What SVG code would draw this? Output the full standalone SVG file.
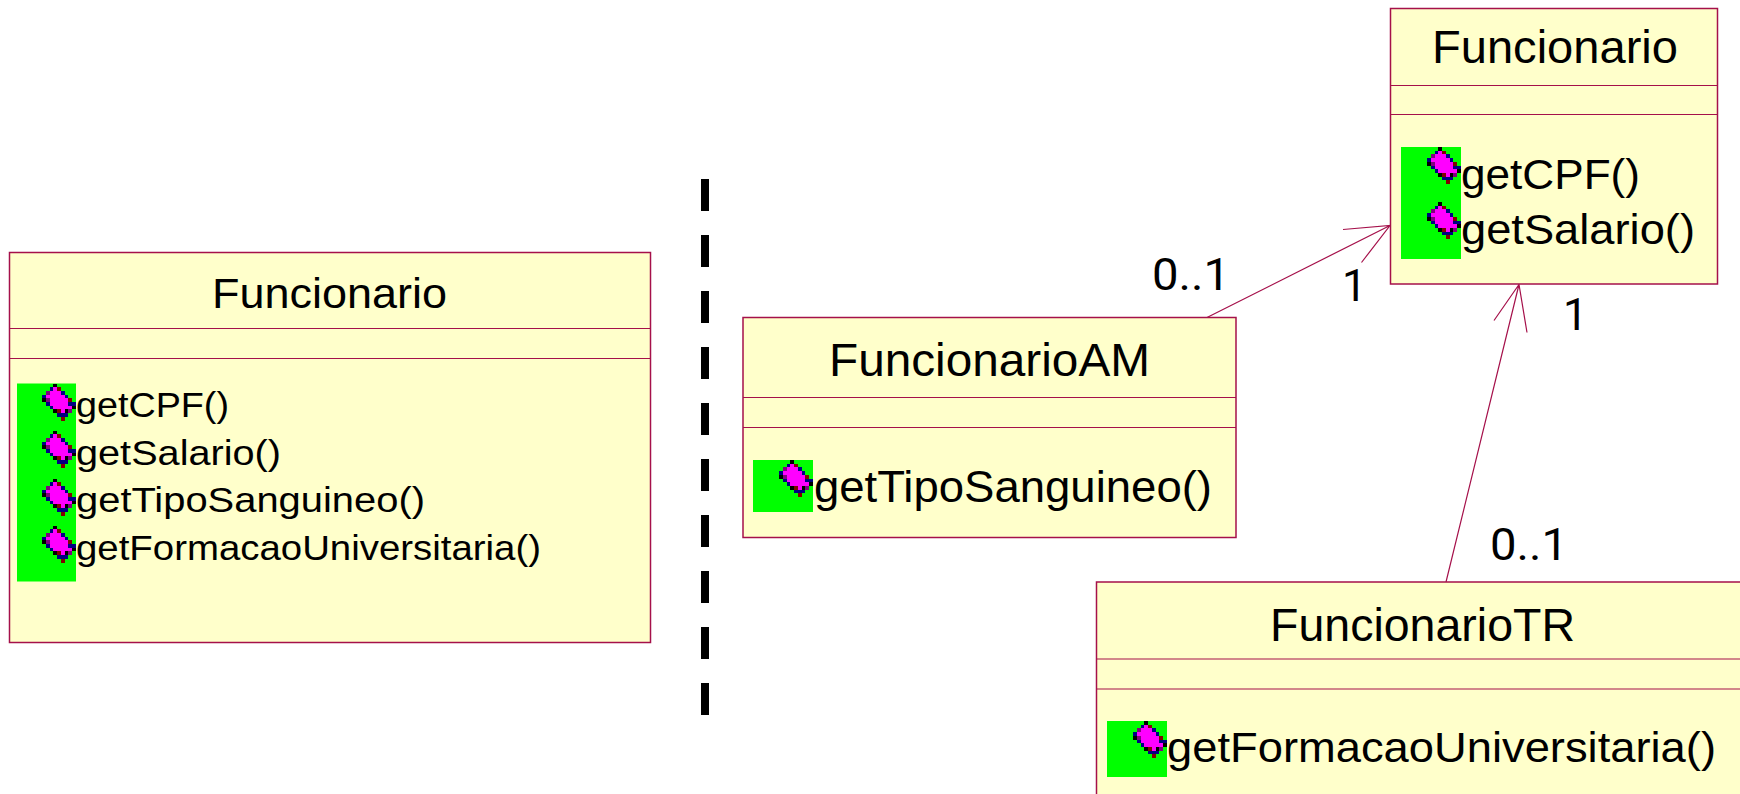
<svg xmlns="http://www.w3.org/2000/svg" width="1740" height="794" viewBox="0 0 1740 794">
<style>
.box{fill:#ffffcb;stroke:#a5104a;stroke-width:1.5}
.sep{stroke:#a5104a;stroke-width:1.2;fill:none}
.conn{stroke:#a5104a;stroke-width:1.2;fill:none}
.green{fill:#00ff00}
.dash{fill:#000}
text{font-family:"Liberation Sans",Arial,sans-serif;fill:#000}
#labels text{font-family:Roboto,"Liberation Sans",sans-serif}
.k{fill:#000}.b{fill:#000080}.r{fill:#800000}.p{fill:#800080}.g{fill:#ff00ff}
</style>
<defs>
<g id="ico" shape-rendering="crispEdges" transform="scale(3.78 3.7)">
<path class="g" d="M3 1h1v1h1v1h1v1h1v1h1v2h-1v1h-3v-1h-1v-1h-1v-1h-1v-3h1v-1h1z"/>
<path class="k" d="M3 0h1v1h-1zM0 4h1v1h-1zM3 7h1v1h-1zM6 7h1v1h-1zM8 6h1v1h-1z"/>
<path class="b" d="M2 1h1v1h-1zM5 2h1v1h-1zM6 3h1v1h-1zM0 3h1v1h-1zM1 5h1v1h-1zM2 6h1v1h-1zM7 5h1v1h-1zM8 5h1v1h-1zM4 8h3v1h-3z"/>
<path class="r" d="M4 1h1v1h-1zM7 4h1v1h-1zM5 9h1v1h-1zM4 7h1v1h-1z"/>
<path class="p" d="M1 2h1v1h-1zM1 4h1v1h-1zM7 7h1v1h-1z"/>
</g>
</defs>
<rect width="1740" height="794" fill="#fff"/>
<g id="connectors">
<path class="conn" d="M1207 317.500L1390 225.500M1343 229.500L1390 225.500L1361.500 262.500"/>
<path class="conn" d="M1446 582L1519 284.500M1494 320.500L1519 284.500L1527 332.500"/>
</g>
<g id="divider" class="dash"><rect x="701" y="179" width="8" height="32"/><rect x="701" y="235" width="8" height="32"/><rect x="701" y="291" width="8" height="32"/><rect x="701" y="347" width="8" height="32"/><rect x="701" y="403" width="8" height="32"/><rect x="701" y="459" width="8" height="32"/><rect x="701" y="515" width="8" height="32"/><rect x="701" y="571" width="8" height="32"/><rect x="701" y="627" width="8" height="32"/><rect x="701" y="683" width="8" height="32"/></g>
<g id="funcionario-left">
<rect class="box" x="9.500" y="252.500" width="641" height="390"/>
<path class="sep" d="M9.500 328.500H650.500M9.500 358.500H650.500"/>
<text x="212" y="307.500" font-size="43" textLength="235" lengthAdjust="spacingAndGlyphs">Funcionario</text>
<rect class="green" x="17" y="383.500" width="59" height="198"/>
<use href="#ico" transform="translate(42 383.500)"/><use href="#ico" transform="translate(42 430.500)"/><use href="#ico" transform="translate(42 478.500)"/><use href="#ico" transform="translate(42 525.500)"/>
<text x="76" y="417" font-size="35" textLength="153" lengthAdjust="spacingAndGlyphs">getCPF()</text>
<text x="76" y="465" font-size="35" textLength="205" lengthAdjust="spacingAndGlyphs">getSalario()</text>
<text x="76" y="512" font-size="35" textLength="349" lengthAdjust="spacingAndGlyphs">getTipoSanguineo()</text>
<text x="76" y="560" font-size="35" textLength="465" lengthAdjust="spacingAndGlyphs">getFormacaoUniversitaria()</text>
</g>
<g id="funcionario-right">
<rect class="box" x="1390.500" y="8.500" width="327" height="275.500"/>
<path class="sep" d="M1390.500 85.500H1717.500M1390.500 114.500H1717.500"/>
<text x="1432" y="63" font-size="46" textLength="246" lengthAdjust="spacingAndGlyphs">Funcionario</text>
<rect class="green" x="1401" y="147" width="60" height="112"/>
<use href="#ico" transform="translate(1427 147)"/><use href="#ico" transform="translate(1427 202)"/>
<text x="1461" y="189" font-size="42" textLength="179" lengthAdjust="spacingAndGlyphs">getCPF()</text>
<text x="1461" y="244" font-size="42" textLength="234" lengthAdjust="spacingAndGlyphs">getSalario()</text>
</g>
<g id="funcionario-am">
<rect class="box" x="743" y="317.500" width="493" height="220"/>
<path class="sep" d="M743 397.500H1236M743 427.500H1236"/>
<text x="829" y="376" font-size="47" textLength="321" lengthAdjust="spacingAndGlyphs">FuncionarioAM</text>
<rect class="green" x="753" y="460" width="60" height="52"/>
<use href="#ico" transform="translate(779 460)"/>
<text x="814" y="502" font-size="44" textLength="398" lengthAdjust="spacingAndGlyphs">getTipoSanguineo()</text>
</g>
<g id="funcionario-tr">
<rect class="box" x="1096.500" y="582" width="670" height="240"/>
<path class="sep" d="M1096.500 659H1766M1096.500 689H1766"/>
<text x="1270" y="641" font-size="47" textLength="305" lengthAdjust="spacingAndGlyphs">FuncionarioTR</text>
<rect class="green" x="1107" y="721" width="60" height="56"/>
<use href="#ico" transform="translate(1133 721)"/>
<text x="1167" y="762" font-size="43" textLength="549" lengthAdjust="spacingAndGlyphs">getFormacaoUniversitaria()</text>
</g>
<g id="labels" font-size="44">
<text x="1152" y="290" textLength="78" lengthAdjust="spacingAndGlyphs">0..1</text>
<text x="1342" y="301">1</text>
<text x="1563" y="330">1</text>
<text x="1490" y="560" textLength="78" lengthAdjust="spacingAndGlyphs">0..1</text>
</g>
</svg>
